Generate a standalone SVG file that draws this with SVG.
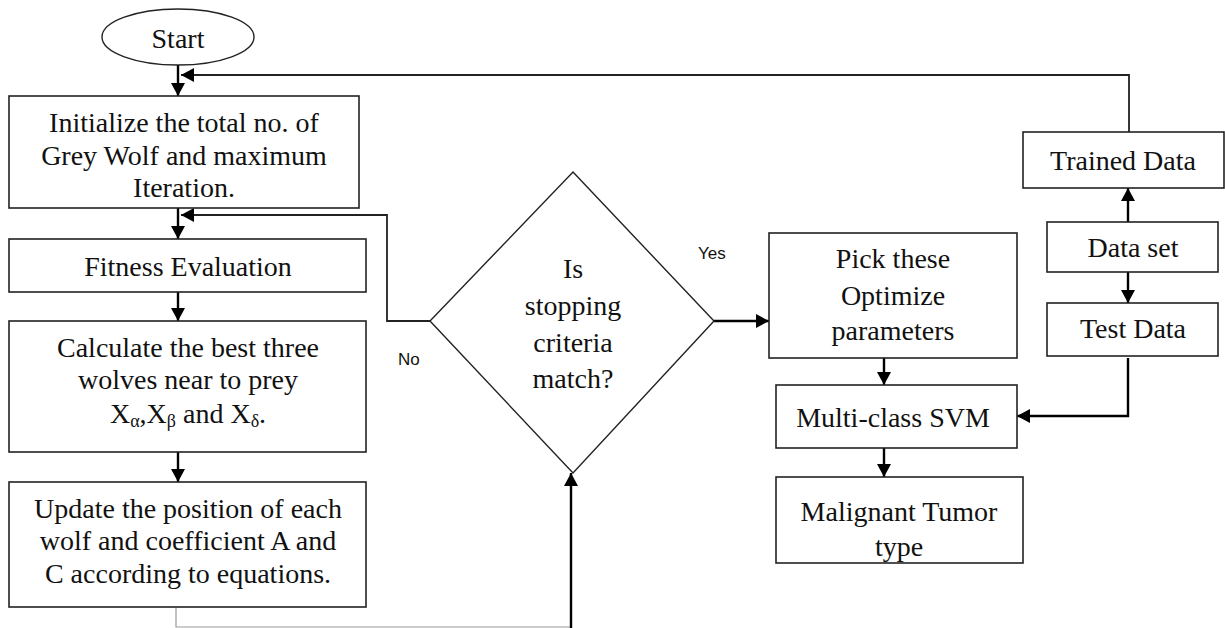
<svg xmlns="http://www.w3.org/2000/svg" width="1225" height="628" viewBox="0 0 1225 628">
<defs>
<style>
.box{fill:#fff;stroke:#222;stroke-width:1.6}
.t{font-family:"Liberation Serif","Times New Roman",serif;font-size:28px;fill:#111;text-anchor:middle}
.s{font-family:"Liberation Sans",Arial,sans-serif;font-size:17px;fill:#111}
.c{fill:none;stroke:#000;stroke-width:2.4}
.thin{fill:none;stroke:#222;stroke-width:1.8}
.faint{fill:none;stroke:#999;stroke-width:1.2}
</style>
<marker id="ah" markerUnits="userSpaceOnUse" markerWidth="14" markerHeight="14" refX="13" refY="7" orient="auto">
<path d="M0,0 L13,7 L0,14 z" fill="#000"/>
</marker>
</defs>
<rect width="1225" height="628" fill="#fff"/>

<g id="connectors">
<line class="c" x1="178" y1="65" x2="178" y2="96" marker-end="url(#ah)"/>
<path class="thin" d="M1129,132 L1129,75 L181,75" marker-end="url(#ah)"/>
<line class="c" x1="178" y1="208" x2="178" y2="239" marker-end="url(#ah)"/>
<path class="thin" d="M430,321 L387,321 L387,215 L181,215" marker-end="url(#ah)"/>
<line class="c" x1="178" y1="292" x2="178" y2="321" marker-end="url(#ah)"/>
<line class="c" x1="178" y1="452" x2="178" y2="482" marker-end="url(#ah)"/>
<path class="faint" d="M176,607 L176,627 L571,627"/>
<line class="c" x1="571" y1="628" x2="571" y2="473" marker-end="url(#ah)"/>
<line class="c" x1="714" y1="321" x2="769" y2="321" marker-end="url(#ah)"/>
<line class="c" x1="884" y1="358" x2="884" y2="385" marker-end="url(#ah)"/>
<line class="c" x1="884" y1="448" x2="884" y2="477" marker-end="url(#ah)"/>
<line class="c" x1="1128" y1="222" x2="1128" y2="188" marker-end="url(#ah)"/>
<line class="c" x1="1128" y1="272" x2="1128" y2="303" marker-end="url(#ah)"/>
<path class="c" d="M1128,358 L1128,416 L1017,416" marker-end="url(#ah)"/>
<text class="s" x="698" y="259">Yes</text>
<text class="s" x="398" y="365" font-size="15">No</text>
</g>

<g id="start">
<ellipse cx="178" cy="37" rx="76" ry="28" fill="#fff" stroke="#222" stroke-width="1.4"/>
<text class="t" x="178" y="48">Start</text>
</g>

<g id="init">
<rect class="box" x="9" y="96" width="350" height="112"/>
<text class="t" x="184" y="132">Initialize the total no. of</text>
<text class="t" x="184" y="165">Grey Wolf and maximum</text>
<text class="t" x="184" y="197">Iteration.</text>
</g>

<g id="fitness">
<rect class="box" x="9" y="239" width="357" height="53"/>
<text class="t" x="188" y="276">Fitness Evaluation</text>
</g>

<g id="best3">
<rect class="box" x="9" y="321" width="357" height="131"/>
<text class="t" x="188" y="357">Calculate the best three</text>
<text class="t" x="188" y="389">wolves near to prey</text>
<text class="t" x="188" y="423">X<tspan font-size="18" dy="4">α</tspan><tspan dy="-4">,X</tspan><tspan font-size="18" dy="4">β</tspan><tspan dy="-4"> and X</tspan><tspan font-size="18" dy="4">δ</tspan><tspan dy="-4">.</tspan></text>
</g>

<g id="update">
<rect class="box" x="9" y="482" width="357" height="125"/>
<text class="t" x="188" y="518">Update the position of each</text>
<text class="t" x="188" y="550">wolf and coefficient A and</text>
<text class="t" x="188" y="583">C according to equations.</text>
</g>

<g id="decision">
<polygon points="573,172 714,321 573,473 430,321" fill="#fff" stroke="#222" stroke-width="1.4"/>
<text class="t" x="573" y="278">Is</text>
<text class="t" x="573" y="315">stopping</text>
<text class="t" x="573" y="352">criteria</text>
<text class="t" x="573" y="388">match?</text>
</g>

<g id="pick">
<rect class="box" x="769" y="233" width="248" height="125"/>
<text class="t" x="893" y="268">Pick these</text>
<text class="t" x="893" y="305">Optimize</text>
<text class="t" x="893" y="340">parameters</text>
</g>

<g id="svm">
<rect class="box" x="776" y="385" width="241" height="63"/>
<text class="t" x="893" y="427">Multi-class SVM</text>
</g>

<g id="malignant">
<rect class="box" x="776" y="477" width="247" height="86"/>
<text class="t" x="899" y="521">Malignant Tumor</text>
<text class="t" x="899" y="556">type</text>
</g>

<g id="trained">
<rect class="box" x="1023" y="132" width="201" height="56"/>
<text class="t" x="1123" y="170">Trained Data</text>
</g>

<g id="dataset">
<rect class="box" x="1047" y="222" width="171" height="50"/>
<text class="t" x="1133" y="257">Data set</text>
</g>

<g id="test">
<rect class="box" x="1047" y="303" width="171" height="53"/>
<text class="t" x="1133" y="338">Test Data</text>
</g>
</svg>
